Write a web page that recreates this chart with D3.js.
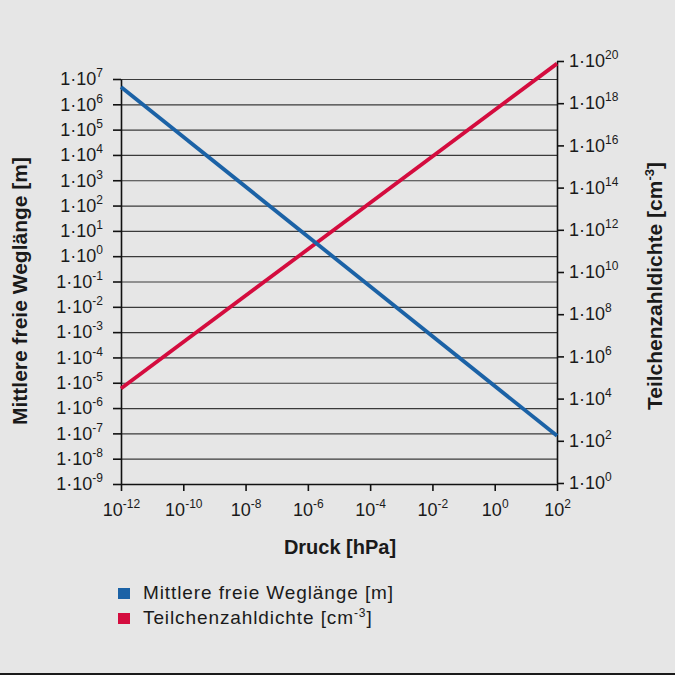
<!DOCTYPE html>
<html>
<head>
<meta charset="utf-8">
<script src="https://cdn.jsdelivr.net/npm/d3@7"></script>
<style>
  body { margin: 0; background: #e6e6e6; }
  svg { display: block; font-family: "Liberation Sans", Arial, Helvetica, sans-serif; }
  .axis path, .axis line { stroke: #111; }
  .grid line { stroke: #3a3a3a; }
</style>
</head>
<body>
<div id="chart"></div>
<script>
// Pressure [hPa] at both ends of the lines (straight lines in log-log)
const pressure = [1e-12, 1e2];
// Mean free path [m]
const freePath = [4.8e6, 8e-8];
// Particle number density [cm^-3]
const density = [3e4, 7.5e19];

// Tick exponents
const xTickExps = [-12, -10, -8, -6, -4, -2, 0, 2];
const leftTickExps = [7, 6, 5, 4, 3, 2, 1, 0, -1, -2, -3, -4, -5, -6, -7, -8, -9];
const rightTickExps = [20, 18, 16, 14, 12, 10, 8, 6, 4, 2, 0];

const legendItems = [
  { name: "Mittlere freie Weglänge [m]", sup: "", color: "#1b62a6" },
  { name: "Teilchenzahldichte [cm", sup: "-3", color: "#d40c3e" }
];

const W = 675, H = 675;
const plot = { left: 121, right: 557, top: 79, bottom: 484 };

const svg = d3.select("#chart").append("svg")
  .attr("width", W)
  .attr("height", H);

svg.append("rect").attr("width", W).attr("height", H).attr("fill", "#e6e6e6");

// Scales
const x = d3.scaleLog().domain([1e-12, 1e2]).range([plot.left, plot.right]);
const yL = d3.scaleLog().domain([1e-9, 1e7]).range([plot.bottom, plot.top]);
const yR = d3.scaleLog().domain([1, 1e20]).range([483, 61]);

// Gridlines from the left axis
const grid = svg.append("g")
  .attr("class", "grid")
  .attr("transform", "translate(" + plot.left + ",0)")
  .call(d3.axisLeft(yL)
    .tickValues(leftTickExps.map(e => Math.pow(10, e)))
    .tickSize(-(plot.right - plot.left))
    .tickFormat(""));
grid.select(".domain").remove();
grid.selectAll("line").attr("stroke-width", 1.2);

// helper to write "1·10^n" style labels
function supLabel(sel, base, exps) {
  sel.selectAll(".tick text").each(function (d, i) {
    const t = d3.select(this);
    t.text(null);
    t.append("tspan").text(base);
    t.append("tspan")
      .attr("dy", -8)
      .attr("font-size", 12)
      .text(exps[i]);
  });
}

// Left axis
const gL = svg.append("g")
  .attr("class", "axis")
  .attr("transform", "translate(" + plot.left + ",0)")
  .call(d3.axisLeft(yL)
    .tickValues(leftTickExps.map(e => Math.pow(10, e)))
    .tickSize(8)
    .tickSizeOuter(0)
    .tickPadding(10)
    .tickFormat(() => ""));
gL.selectAll("text").attr("font-size", 18).attr("fill", "#1a1a1a");
supLabel(gL, "1·10", leftTickExps);

// Right axis
const gR = svg.append("g")
  .attr("class", "axis")
  .attr("transform", "translate(" + plot.right + ",0)")
  .call(d3.axisRight(yR)
    .tickValues(rightTickExps.map(e => Math.pow(10, e)))
    .tickSize(7)
    .tickSizeOuter(0)
    .tickPadding(5)
    .tickFormat(() => ""));
gR.selectAll("text").attr("font-size", 18).attr("fill", "#1a1a1a");
supLabel(gR, "1·10", rightTickExps);

// Bottom axis
const gX = svg.append("g")
  .attr("class", "axis")
  .attr("transform", "translate(0," + plot.bottom + ")")
  .call(d3.axisBottom(x)
    .tickValues(xTickExps.map(e => Math.pow(10, e)))
    .tickSize(7)
    .tickSizeOuter(0)
    .tickPadding(12)
    .tickFormat(() => ""));
gX.selectAll("text").attr("font-size", 18).attr("fill", "#1a1a1a");
supLabel(gX, "10", xTickExps);

svg.selectAll(".axis path, .axis line").attr("stroke-width", 1.6);

// Lines
const lineL = d3.line().x(d => x(d.p)).y(d => yL(d.v));
const lineR = d3.line().x(d => x(d.p)).y(d => yR(d.v));

svg.append("path")
  .datum(pressure.map((p, i) => ({ p: p, v: density[i] })))
  .attr("fill", "none")
  .attr("stroke", legendItems[1].color)
  .attr("stroke-width", 3.8)
  .attr("d", lineR);

svg.append("path")
  .datum(pressure.map((p, i) => ({ p: p, v: freePath[i] })))
  .attr("fill", "none")
  .attr("stroke", legendItems[0].color)
  .attr("stroke-width", 3.8)
  .attr("d", lineL);

// Axis titles
svg.append("text")
  .attr("transform", "translate(27,291) rotate(-90)")
  .attr("text-anchor", "middle")
  .attr("font-size", 21)
  .attr("font-weight", "bold")
  .attr("fill", "#1a1a1a")
  .text("Mittlere freie Weglänge [m]");

const tR = svg.append("text")
  .attr("transform", "translate(662,286) rotate(-90)")
  .attr("text-anchor", "middle")
  .attr("font-size", 21)
  .attr("font-weight", "bold")
  .attr("fill", "#1a1a1a");
tR.append("tspan").text("Teilchenzahldichte [cm");
tR.append("tspan").attr("dy", -8).attr("font-size", 13).text("-3");
tR.append("tspan").attr("dy", 8).text("]");

svg.append("text")
  .attr("x", 340)
  .attr("y", 554)
  .attr("text-anchor", "middle")
  .attr("font-size", 20)
  .attr("font-weight", "bold")
  .attr("fill", "#1a1a1a")
  .text("Druck [hPa]");

// Legend
const legend = svg.append("g").attr("transform", "translate(118,588)");
legendItems.forEach((d, i) => {
  const g = legend.append("g").attr("transform", "translate(0," + (i * 25) + ")");
  g.append("rect").attr("width", 12).attr("height", 11).attr("fill", d.color);
  const t = g.append("text")
    .attr("x", 25)
    .attr("y", 10.5)
    .attr("font-size", 19)
    .attr("letter-spacing", 0.9)
    .attr("fill", "#1a1a1a");
  t.append("tspan").text(d.name);
  if (d.sup) {
    t.append("tspan").attr("dy", -7).attr("font-size", 12).text(d.sup);
    t.append("tspan").attr("dy", 7).text("]");
  }
});

// bottom rule
svg.append("line")
  .attr("x1", 0).attr("x2", W)
  .attr("y1", 674).attr("y2", 674)
  .attr("stroke", "#1a1a1a")
  .attr("stroke-width", 2);
</script>
</body>
</html>
